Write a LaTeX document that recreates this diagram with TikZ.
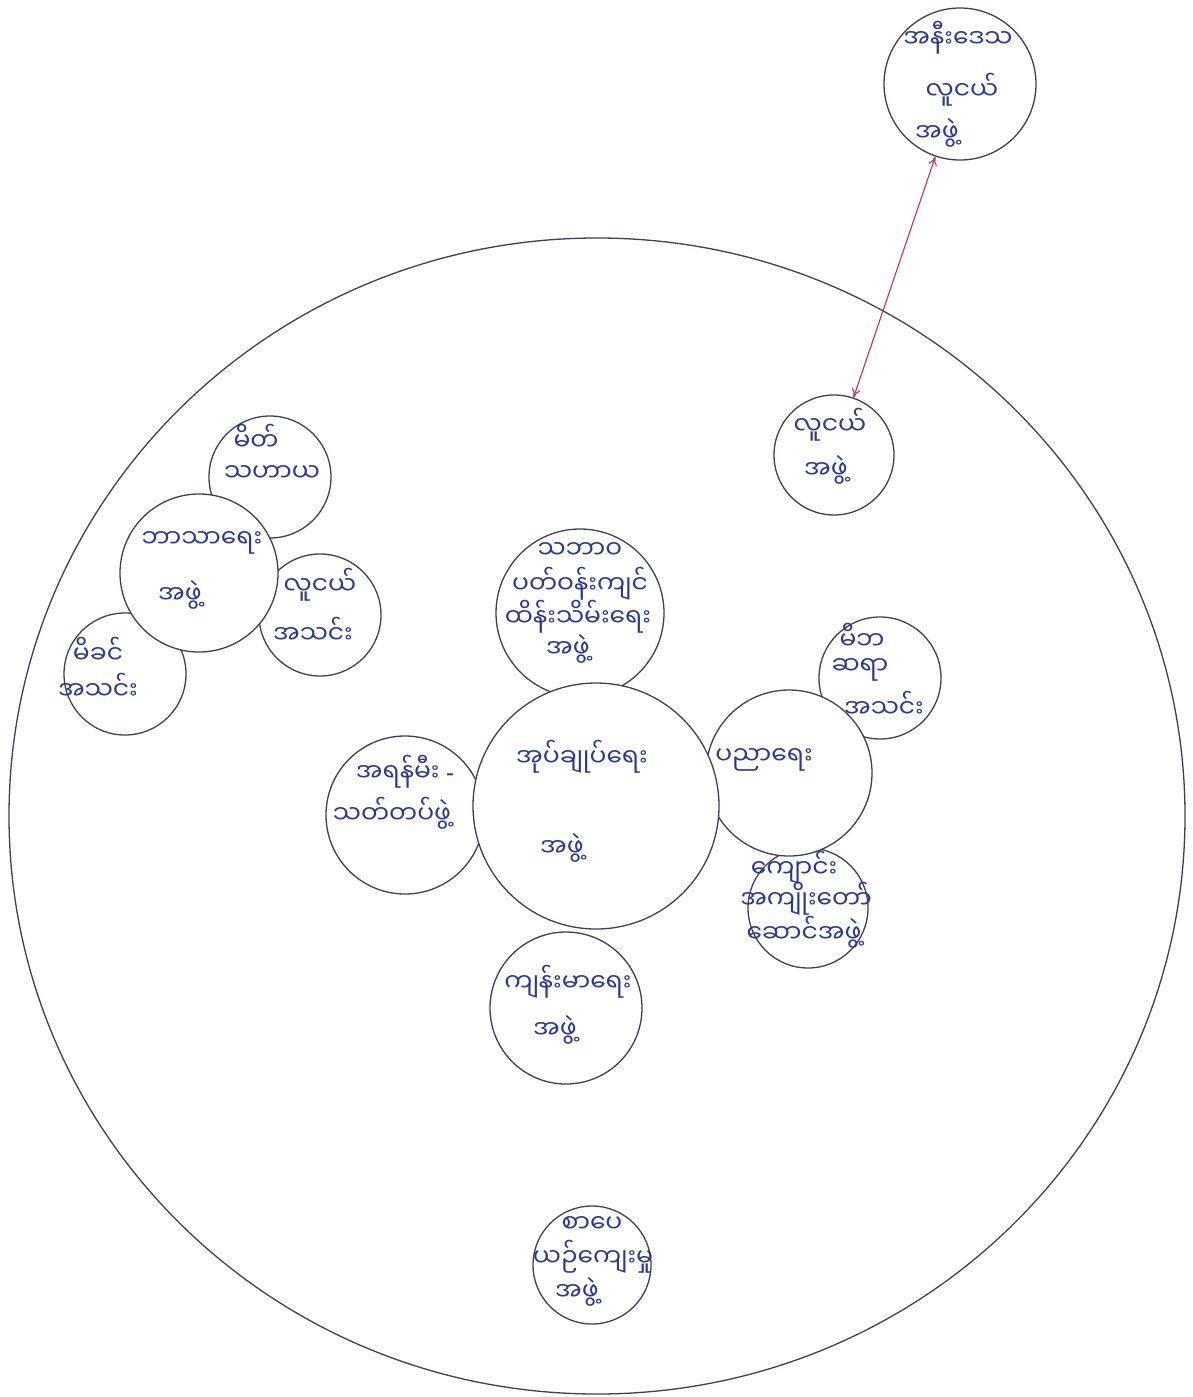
\documentclass[tikz,border=0pt]{standalone}
\usepackage{fontspec}
\usetikzlibrary{shapes.geometric,arrows.meta}
\newfontfamily\myfont[Script=Myanmar]{Noto Sans Myanmar UI}
\newfontfamily\latfont{Noto Sans}
\definecolor{ringc}{HTML}{3E3F55}
\definecolor{inkc}{HTML}{2B3A8F}
\definecolor{arrowc}{HTML}{C2305E}
\tikzset{
  ring/.style={circle, draw=ringc, fill=white, line width=1.3pt, minimum size=#1, inner sep=0pt},
  lbl/.style={text=inkc, font=\myfont\fontsize{25}{30}\selectfont, inner sep=0pt},
  link/.style={draw=arrowc, line width=1.1pt, {To[length=9pt,width=9pt]}-{To[length=9pt,width=9pt]}}
}
\begin{document}
\begin{tikzpicture}[x=1pt,y=-1pt]
\useasboundingbox[fill=white] (0,0) rectangle (1193,1397);
% community boundary
\node (community) [ellipse, draw=ringc, line width=1.3pt, minimum width=1176pt, minimum height=1156pt, inner sep=0pt] at (597,816) {};

% outside + youth
\node (near) [ring=152pt] at (960,84) {};
\node (youth) [ring=120pt] at (834,455) {};
\draw[link] (near) -- (youth);

% religious cluster (satellites first)
\node (mitta) [ring=122pt] at (270,477) {};
\node (yassoc) [ring=122pt] at (320,615) {};
\node (mother) [ring=122pt] at (125,674) {};
\node (relig) [ring=158pt] at (199,573) {};

% central cluster
\node (env) [ring=168pt] at (580,613) {};
\node (fire) [ring=158pt] at (405,815) {};
\node (health) [ring=152pt] at (566,1008) {};
\node (pta) [ring=122pt] at (880,678) {};
\node (board) [ring=120pt] at (808,908) {};
\node (edu) [ring=166pt] at (789,773) {};
\node (admin) [ring=246pt] at (596,806) {};

% literature
\node (lit) [ring=118pt] at (592,1265) {};

% labels
\node (l1a) [lbl] at (958,38) {အနီးဒေသ};
\node (l1b) [lbl] at (962,90) {လူငယ်};
\node (l1c) [lbl] at (937,133) {အဖွဲ့};

\node (l2a) [lbl] at (830,425) {လူငယ်};
\node (l2b) [lbl] at (826,470) {အဖွဲ့};

\node (l3a) [lbl] at (256,437) {မိတ်};
\node (l3b) [lbl] at (272,473) {သဟာယ};

\node (l4a) [lbl] at (202,543) {ဘာသာရေး};
\node (l4b) [lbl] at (180,595) {အဖွဲ့};

\node (l5a) [lbl] at (320,585) {လူငယ်};
\node (l5b) [lbl] at (313,630) {အသင်း};

\node (l6a) [lbl] at (98,650) {မိခင်};
\node (l6b) [lbl] at (98,686) {အသင်း};

\node (l7a) [lbl] at (580,550) {သဘာဝ};
\node (l7b) [lbl] at (580,584) {ပတ်ဝန်းကျင်};
\node (l7c) [lbl] at (578,617) {ထိန်းသိမ်းရေး};
\node (l7d) [lbl] at (568,649) {အဖွဲ့};

\node (l8a) [lbl] at (582,757) {အုပ်ချုပ်ရေး};
\node (l8b) [lbl] at (562,848) {အဖွဲ့};

\node (l9a) [lbl] at (405,772) {အရန်မီး {\latfont -}};
\node (l9b) [lbl] at (392,813) {သတ်တပ်ဖွဲ့};

\node (l10a) [lbl] at (764,760) {ပညာရေး};

\node (l11a) [lbl] at (862,636) {မိဘ};
\node (l11b) [lbl] at (860,670) {ဆရာ};
\node (l11c) [lbl] at (884,704) {အသင်း};

\node (l12a) [lbl] at (794,868) {ကျောင်း};
\node (l12b) [lbl] at (806,899) {အကျိုးတော်};
\node (l12c) [lbl] at (804,932) {ဆောင်အဖွဲ့};

\node (l13a) [lbl] at (568,982) {ကျန်းမာရေး};
\node (l13b) [lbl] at (555,1030) {အဖွဲ့};

\node (l14a) [lbl] at (592,1224) {စာပေ};
\node (l14b) [lbl] at (593,1257) {ယဉ်ကျေးမှု};
\node (l14c) [lbl] at (577,1292) {အဖွဲ့};
\end{tikzpicture}
\end{document}
